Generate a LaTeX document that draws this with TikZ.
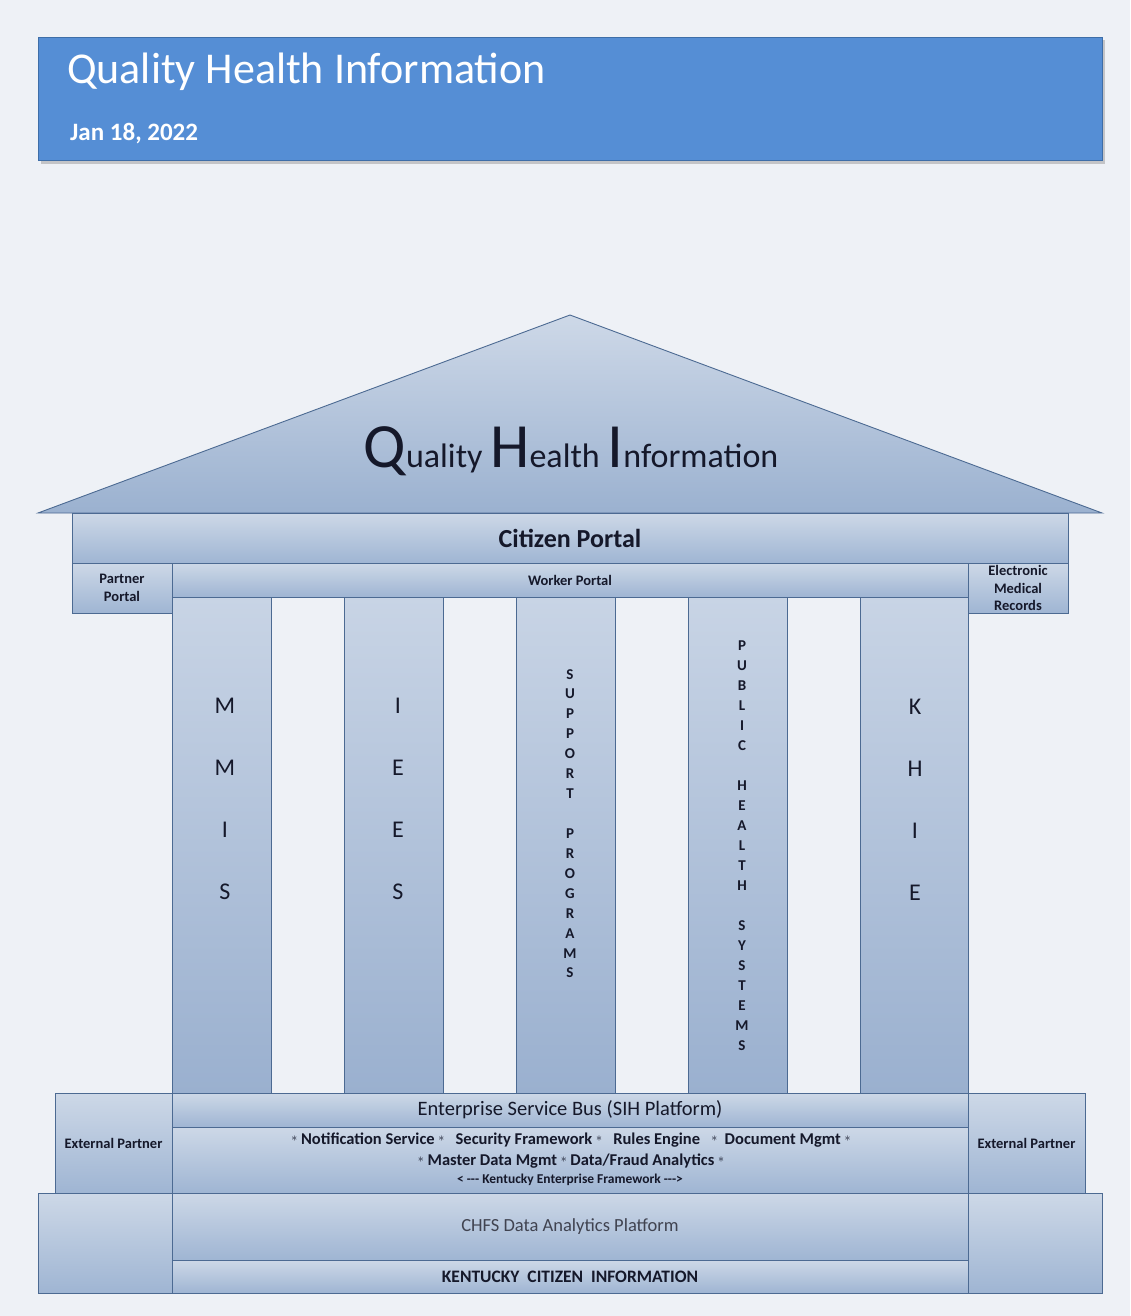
\documentclass[tikz,border=0pt]{standalone}
\usepackage{fontspec}
\setmainfont{Carlito}
\definecolor{bg}{HTML}{EEF1F6}
\definecolor{hdr}{HTML}{558ED5}
\definecolor{hdredge}{HTML}{3E6EA8}
\definecolor{edge}{HTML}{4C6A92}
\definecolor{gtop}{HTML}{CDD8E7}
\definecolor{gbot}{HTML}{9FB5D3}
\definecolor{ctop}{HTML}{C8D4E5}
\definecolor{cbot}{HTML}{9AB0CF}
\definecolor{ink}{HTML}{15182A}
\definecolor{grayink}{HTML}{404350}
\newcommand{\bul}{{\fontsize{13}{13}\selectfont\raisebox{0.45ex}{$\ast$}}}
\tikzset{
  block/.style={draw=edge, line width=0.9pt, top color=gtop, bottom color=gbot,
    anchor=north west, inner sep=0pt, outer sep=0pt, text=ink, align=center},
  colbox/.style={block, top color=ctop, bottom color=cbot},
  bigletter/.style={font=\fontsize{24}{24}\selectfont, text=ink, inner sep=0pt},
  smallletter/.style={font=\bfseries\fontsize{15}{15}\selectfont, text=ink, inner sep=0pt},
  tiny/.style={font=\bfseries\fontsize{14.5}{17.5}\selectfont, text=ink},
  svc/.style={anchor=center, inner sep=0pt, text=ink},
}
\begin{document}
\begin{tikzpicture}[x=1pt,y=-1pt]
\useasboundingbox (0,0) rectangle (1130,1316);
\fill[bg] (0,0) rectangle (1130,1316);
% header
\fill[black!40, opacity=0.5] (41,40) rectangle (1105,164);
\node[draw=hdredge, line width=1pt, fill=hdr, anchor=north west, inner sep=0pt,
  minimum width=1064, minimum height=123] (header) at (38,37) {};
\node[anchor=base west, text=white, font=\fontsize{44}{44}\selectfont, inner sep=0pt] (title) at (67,84) {Quality Health Information};
\node[anchor=base west, text=white, font=\bfseries\fontsize{25}{25}\selectfont, inner sep=0pt] (date) at (70,141) {Jan 18, 2022};
% roof
\shade[top color=ctop!90!white, bottom color=gbot!95!edge, draw=edge, line width=0.9pt]
  (38,513) -- (570,315) -- (1102,513) -- cycle;
\node[anchor=base, inner sep=0pt, text=ink] (rooftext) at (571,467)
  {\fontsize{63}{63}\selectfont Q\fontsize{34}{34}\selectfont uality
   \fontsize{63}{63}\selectfont H\fontsize{34}{34}\selectfont ealth
   \fontsize{63}{63}\selectfont I\fontsize{34}{34}\selectfont nformation};
% citizen portal
\node[block, minimum width=996, minimum height=50, font=\bfseries\fontsize{26}{26}\selectfont] (citizen) at (72,513) {Citizen Portal};
\node[block, minimum width=100, minimum height=50, tiny] (partner) at (72,563) {Partner\\Portal};
\node[block, minimum width=796, minimum height=34, font=\bfseries\fontsize{14.5}{14.5}\selectfont] (worker) at (172,563) {Worker Portal};
\node[block, minimum width=100, minimum height=50, tiny] (emr) at (968,563) {Electronic\\Medical\\Records};
% columns
\node[colbox, minimum width=99, minimum height=496] (mmis) at (172,597) {};
\node[colbox, minimum width=99, minimum height=496] (iees) at (344,597) {};
\node[colbox, minimum width=99, minimum height=496] (support) at (516,597) {};
\node[colbox, minimum width=99, minimum height=496] (public) at (688,597) {};
\node[colbox, minimum width=108, minimum height=496] (khie) at (860,597) {};
\foreach \ch [count=\i] in {M,M,I,S}
  \node[bigletter] (mmisL\i) at (225,{706+62*(\i-1)}) {\ch};
\foreach \ch [count=\i] in {I,E,E,S}
  \node[bigletter] (ieesL\i) at (398,{706+62*(\i-1)}) {\ch};
\foreach \ch [count=\i] in {K,H,I,E}
  \node[bigletter] (khieL\i) at (915,{707+62*(\i-1)}) {\ch};
\foreach \ch/\yy [count=\i] in {S/675,U/694,P/714,P/734,O/754,R/774,T/794,P/834,R/854,O/874,G/894,R/914,A/934,M/954,S/973}
  \node[smallletter] (supL\i) at (570,\yy) {\ch};
\foreach \ch/\yy [count=\i] in {P/646,U/666,B/686,L/706,I/726,C/746,H/786,E/806,A/826,L/846,T/866,H/886,S/926,Y/946,S/966,T/986,E/1006,M/1026,S/1046}
  \node[smallletter] (pubL\i) at (742,\yy) {\ch};
% ESB
\node[block, minimum width=117, minimum height=100, tiny] (extL) at (55,1093) {External Partner};
\node[block, minimum width=117, minimum height=100, tiny] (extR) at (968,1093) {External Partner};
\node[block, minimum width=796, minimum height=34, font=\fontsize{20.5}{20.5}\selectfont] (esb) at (172,1093) {Enterprise Service Bus (SIH Platform)};
\node[block, minimum width=796, minimum height=66] (services) at (172,1127) {};
\node[svc, font=\bfseries\fontsize{16.5}{16.5}\selectfont] (svc1) at (571,1140)
  {\bul\ Notification Service \bul\ \ \ Security Framework \bul\ \ \ Rules Engine\ \ \ \bul\ \ Document Mgmt \bul};
\node[svc, font=\bfseries\fontsize{16.5}{16.5}\selectfont] (svc2) at (571,1161)
  {\bul\ Master Data Mgmt \bul\ Data/Fraud\ Analytics \bul};
\node[svc, font=\bfseries\fontsize{13.5}{13.5}\selectfont] (svc3) at (570,1180)
  {<\ {-}{-}{-}\ Kentucky Enterprise Framework {-}{-}{-}>};
% bottom
\node[block, minimum width=134, minimum height=100] (baseL) at (38,1193) {};
\node[block, minimum width=134, minimum height=100] (baseR) at (968,1193) {};
\node[block, minimum width=796, minimum height=67, text=grayink, font=\fontsize{18.5}{18.5}\selectfont] (chfs) at (172,1193) {CHFS Data Analytics Platform};
\node[block, minimum width=796, minimum height=33, font=\bfseries\fontsize{17.5}{17.5}\selectfont] (kci) at (172,1260) {KENTUCKY\ \ CITIZEN\ \ INFORMATION};
\end{tikzpicture}
\end{document}
